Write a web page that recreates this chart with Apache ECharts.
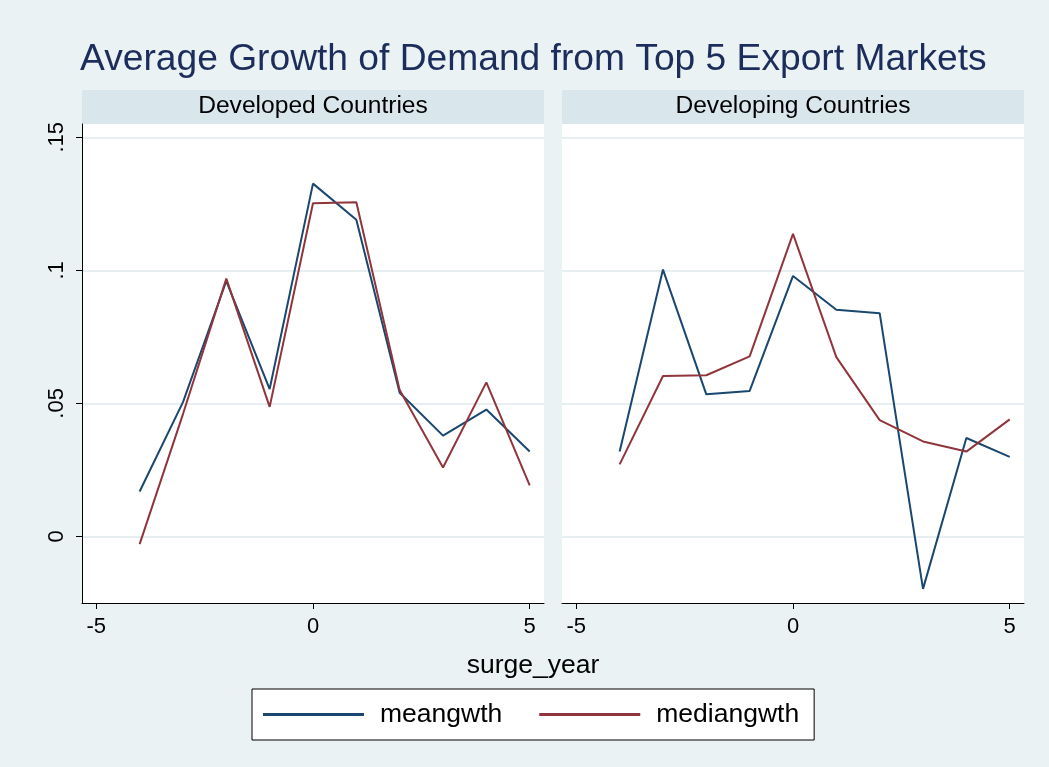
<!DOCTYPE html>
<html lang="en">
  <head>
    <meta charset="UTF-8" />
    <title>Average Growth of Demand from Top 5 Export Markets</title>
    <script src="https://cdn.jsdelivr.net/npm/echarts@6/dist/echarts.min.js"></script>
    <style>
      html, body { margin: 0; padding: 0; background: #eaf2f3; }
      #chart { width: 1049px; height: 767px; }
    </style>
  </head>
  <body>
    <div id="chart"></div>
    <script>
      // surge_year on the x axis
      const surgeYears = [-4, -3, -2, -1, 0, 1, 2, 3, 4, 5];

      // Developed Countries
      const devMean = [0.0169, 0.0505, 0.0960, 0.0554, 0.1326, 0.1190, 0.0540, 0.0379, 0.0477, 0.0319];
      const devMedian = [-0.0029, 0.0460, 0.0969, 0.0487, 0.1252, 0.1256, 0.0550, 0.0259, 0.0579, 0.0192];

      // Developing Countries
      const dvgMean = [0.0319, 0.1003, 0.0534, 0.0547, 0.0979, 0.0852, 0.0839, -0.0197, 0.0370, 0.0299];
      const dvgMedian = [0.0271, 0.0603, 0.0606, 0.0677, 0.1137, 0.0674, 0.0437, 0.0357, 0.0319, 0.0440];

      const xTicks = [-5, 0, 5];
      const yTicks = [0, 0.05, 0.1, 0.15];
      const yTickLabels = ['0', '.05', '.1', '.15'];
      const panelTitles = ['Developed Countries', 'Developing Countries'];

      const NAVY = '#1a476f';
      const MAROON = '#90353b';
      const FONT = 'Liberation Sans, Arial, sans-serif';

      const pair = (xs, ys) => xs.map((x, i) => [x, ys[i]]);

      const chart = echarts.init(document.getElementById('chart'));

      function xAxisFor(idx) {
        return {
          gridIndex: idx,
          type: 'value',
          min: -5.33,
          max: 5.33,
          axisLine: { show: true, onZero: false, lineStyle: { color: '#000', width: 1 } },
          axisTick: { show: true, length: 6, customValues: xTicks, lineStyle: { color: '#000' } },
          axisLabel: {
            customValues: xTicks,
            fontSize: 22, color: '#000', fontFamily: FONT, margin: 13
          },
          splitLine: { show: false }
        };
      }

      function yAxisFor(idx, showAxis) {
        return {
          gridIndex: idx,
          type: 'value',
          min: -0.025,
          max: 0.155,
          axisLine: { show: showAxis, onZero: false, lineStyle: { color: '#000', width: 1 } },
          axisTick: { show: showAxis, length: 6, customValues: yTicks, lineStyle: { color: '#000' } },
          axisLabel: {
            show: showAxis,
            customValues: yTicks,
            rotate: 90,
            fontSize: 22, color: '#000', fontFamily: FONT, margin: 14,
            formatter: v => yTickLabels[yTicks.findIndex(t => Math.abs(t - v) < 1e-9)] || ''
          },
          splitLine: { show: true, lineStyle: { color: '#e6eef0', width: 2 } }
        };
      }

      function lineSeries(name, color, idx, data) {
        return {
          name: name,
          type: 'line',
          xAxisIndex: idx,
          yAxisIndex: idx,
          data: data,
          symbol: 'none',
          lineStyle: { color: color, width: 2 },
          itemStyle: { color: color },
          animation: false
        };
      }

      const option = {
        backgroundColor: '#eaf2f3',
        animation: false,
        title: {
          text: 'Average Growth of Demand from Top 5 Export Markets',
          left: 75,
          top: 36,
          textStyle: { fontSize: 37.2, fontWeight: 'normal', color: '#1c2d5c', fontFamily: FONT }
        },
        grid: [
          { left: 82, right: 505, top: 124, bottom: 164, show: true, backgroundColor: '#fff', borderWidth: 0 },
          { left: 562, right: 25, top: 124, bottom: 164, show: true, backgroundColor: '#fff', borderWidth: 0 }
        ],
        xAxis: [xAxisFor(0), xAxisFor(1)],
        yAxis: [yAxisFor(0, true), yAxisFor(1, false)],
        legend: {
          left: 252,
          top: 689,
          backgroundColor: '#fff',
          borderColor: '#000',
          borderWidth: 1,
          padding: [12, 15, 12, 11],
          itemGap: 37,
          itemWidth: 101,
          itemHeight: 3,
          icon: 'rect',
          textStyle: { fontSize: 26.5, color: '#000', fontFamily: FONT, padding: [0, 0, 0, 11] },
          data: ['meangwth', 'mediangwth']
        },
        graphic: [
          { type: 'rect', shape: { x: 82, y: 90, width: 462, height: 34 }, style: { fill: '#d9e6eb' } },
          { type: 'rect', shape: { x: 562, y: 90, width: 462, height: 34 }, style: { fill: '#d9e6eb' } },
          { type: 'text', x: 313, y: 106, style: { text: panelTitles[0], fontSize: 24.6, fontFamily: FONT, fill: '#000', align: 'center', verticalAlign: 'middle' } },
          { type: 'text', x: 793, y: 106, style: { text: panelTitles[1], fontSize: 24.6, fontFamily: FONT, fill: '#000', align: 'center', verticalAlign: 'middle' } },
          { type: 'text', x: 533, y: 666, style: { text: 'surge_year', fontSize: 26.5, fontFamily: FONT, fill: '#000', align: 'center', verticalAlign: 'middle' } }
        ],
        series: [
          lineSeries('meangwth', NAVY, 0, pair(surgeYears, devMean)),
          lineSeries('mediangwth', MAROON, 0, pair(surgeYears, devMedian)),
          lineSeries('meangwth', NAVY, 1, pair(surgeYears, dvgMean)),
          lineSeries('mediangwth', MAROON, 1, pair(surgeYears, dvgMedian))
        ]
      };

      chart.setOption(option);
    </script>
  </body>
</html>
